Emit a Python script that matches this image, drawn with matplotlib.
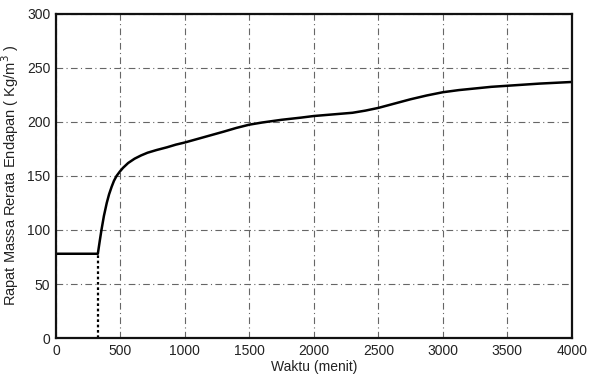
import matplotlib
matplotlib.use("Agg")
import matplotlib.pyplot as plt

plt.rcParams['font.family'] = ['Liberation Sans', 'DejaVu Sans']

# Mean deposit density over time
waktu = [0, 325, 330, 340, 353, 372, 394, 412, 432, 450, 470,
         495, 520, 560, 610, 660, 710, 780, 860, 930,
         1000, 1150, 1300, 1400, 1500, 1600, 1750, 1900, 2000, 2150, 2300,
         2400, 2500, 2625, 2750, 2875, 3000, 3125, 3250, 3375, 3500,
         3750, 4000]
rapat = [78, 78, 82, 90, 100, 113, 125, 133, 140, 145.5, 150,
         154, 157.5, 162, 166, 169, 171.5, 174, 176.5, 179,
         181, 186, 191, 194.5, 197.5, 199.5, 202, 204, 205.5, 207, 208.5,
         210.5, 213, 217, 221, 224.5, 227.5, 229.5, 231, 232.5, 233.5,
         235.5, 237]

# Start of the deposition process
t_mulai = 325
rapat_awal = 78

x_ticks = [0, 500, 1000, 1500, 2000, 2500, 3000, 3500, 4000]
y_ticks = [0, 50, 100, 150, 200, 250, 300]

fig = plt.figure(figsize=(5.95, 3.76), dpi=100)
ax = fig.add_axes([0.094, 0.101, 0.867, 0.862])

ax.plot(waktu, rapat, color='black', lw=1.8, solid_joinstyle='round',
        solid_capstyle='round')
ax.plot([t_mulai, t_mulai], [0, rapat_awal], color='black', lw=1.6,
        linestyle=(0, (1.2, 1.2)))

ax.set_xlim(0, 4000)
ax.set_ylim(0, 300)
ax.set_xticks(x_ticks)
ax.set_yticks(y_ticks)
ax.tick_params(length=0, labelsize=10, pad=4, colors='#222222')

ax.grid(True, color='#666666', lw=0.8, linestyle=(0, (6, 3, 1, 3)))
ax.set_axisbelow(True)
for s in ax.spines.values():
    s.set_linewidth(1.6)
    s.set_color('#111111')

ax.set_xlabel('Waktu (menit)', fontsize=10, labelpad=2, color='#222222')
ax.set_ylabel('Rapat Massa Rerata Endapan ( Kg/m$^3$ )', fontsize=10.5,
              labelpad=4, color='#222222')

fig.savefig('out.png', dpi=100)
